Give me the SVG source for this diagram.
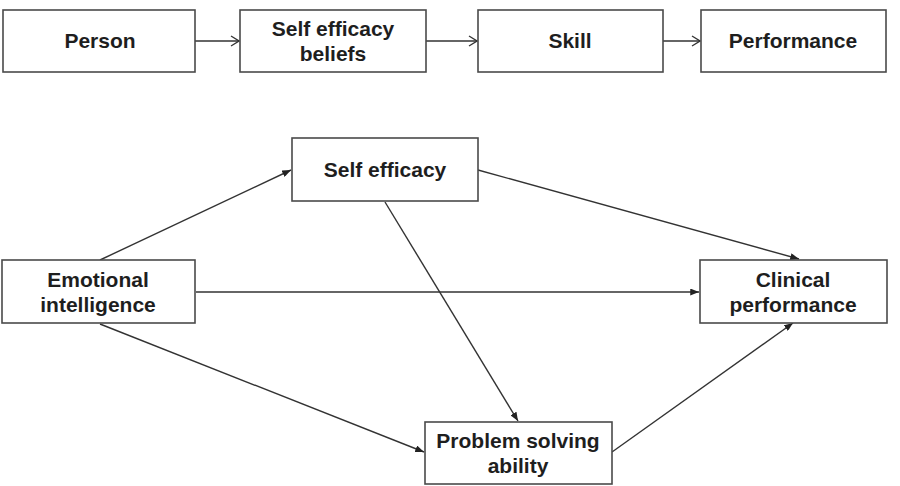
<svg xmlns="http://www.w3.org/2000/svg" width="900" height="486" viewBox="0 0 900 486">
  <style>
    .box { fill: #ffffff; stroke: #4a4a4a; stroke-width: 1.6; }
    .lbl { font-family: "Liberation Sans", Arial, sans-serif; font-weight: bold; font-size: 21px; fill: #1e1e1e; text-anchor: middle; }
    .edge { fill: none; stroke: #333333; stroke-width: 1.4; }
    .open { marker-end: url(#chevron); }
    .solid { marker-end: url(#tri); }
  </style>
  <defs>
    <marker id="chevron" viewBox="0 0 10 12" refX="9" refY="6" markerWidth="10" markerHeight="12" markerUnits="userSpaceOnUse" orient="auto">
      <path d="M1,1 L9,6 L1,11" fill="none" stroke="#333333" stroke-width="1.3"/>
    </marker>
    <marker id="tri" viewBox="0 0 10 8" refX="10" refY="4" markerWidth="9" markerHeight="7" markerUnits="userSpaceOnUse" orient="auto">
      <path d="M0,0 L10,4 L0,8 Z" fill="#222222"/>
    </marker>
  </defs>

  <!-- connectors -->
  <g id="connectors">
    <line class="edge open" x1="195" y1="41" x2="239" y2="41"/>
    <line class="edge open" x1="426" y1="41" x2="477" y2="41"/>
    <line class="edge open" x1="663" y1="41" x2="700" y2="41"/>

    <line class="edge solid" x1="100" y1="260" x2="291" y2="170"/>
    <line class="edge solid" x1="478" y1="170" x2="799" y2="259"/>
    <line class="edge solid" x1="196" y1="292" x2="699" y2="292"/>
    <line class="edge solid" x1="385" y1="202" x2="518" y2="421"/>
    <line class="edge solid" x1="100" y1="324" x2="424" y2="452"/>
    <line class="edge solid" x1="612" y1="452" x2="793" y2="323"/>
  </g>

  <!-- top chain -->
  <g id="person">
    <rect class="box" x="3" y="10" width="192" height="62"/>
    <text class="lbl" x="100" y="48">Person</text>
  </g>
  <g id="self-efficacy-beliefs">
    <rect class="box" x="240" y="10" width="186" height="62"/>
    <text class="lbl" x="333" y="36">Self efficacy</text>
    <text class="lbl" x="333" y="61">beliefs</text>
  </g>
  <g id="skill">
    <rect class="box" x="478" y="10" width="185" height="62"/>
    <text class="lbl" x="570" y="48">Skill</text>
  </g>
  <g id="performance">
    <rect class="box" x="701" y="10" width="185" height="62"/>
    <text class="lbl" x="793" y="48">Performance</text>
  </g>

  <!-- model -->
  <g id="self-efficacy">
    <rect class="box" x="292" y="138" width="186" height="63"/>
    <text class="lbl" x="385" y="177">Self efficacy</text>
  </g>
  <g id="emotional-intelligence">
    <rect class="box" x="2" y="260" width="193" height="63"/>
    <text class="lbl" x="98" y="287">Emotional</text>
    <text class="lbl" x="98" y="312">intelligence</text>
  </g>
  <g id="clinical-performance">
    <rect class="box" x="700" y="260" width="187" height="63"/>
    <text class="lbl" x="793" y="287">Clinical</text>
    <text class="lbl" x="793" y="312">performance</text>
  </g>
  <g id="problem-solving-ability">
    <rect class="box" x="425" y="422" width="187" height="62"/>
    <text class="lbl" x="518" y="448">Problem solving</text>
    <text class="lbl" x="518" y="473">ability</text>
  </g>
</svg>
